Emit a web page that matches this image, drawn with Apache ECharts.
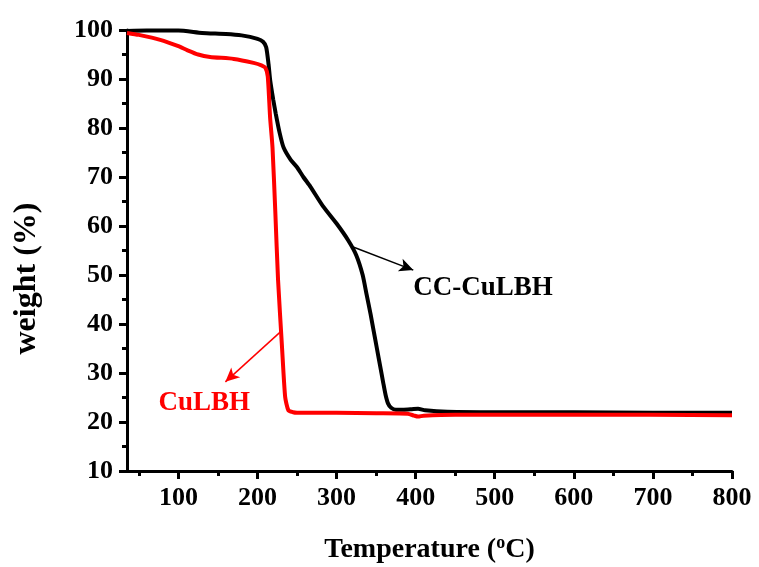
<!DOCTYPE html>
<html lang="en">
<head>
    <meta charset="UTF-8">
    <title>TGA</title>
    <script type="text/javascript" src="https://cdn.jsdelivr.net/npm/echarts@6/dist/echarts.min.js"></script>
    <style>
        html, body { margin: 0; padding: 0; background: #fff; }
        #main { width: 759px; height: 567px; }
    </style>
</head>
<body>
<div id="main"></div>
<script>
    // 数据 (温度, 失重%)
    var ccCuLBH = [
        [35, 99.8], [60, 99.9], [100, 99.9], [130, 99.4], [160, 99.2], [180, 98.9],
        [200, 98.2], [207, 97.6], [211, 96.5], [214, 93], [216, 89.8], [220, 85.7],
        [223, 83], [228, 79], [233, 76], [242, 73.5], [250, 72], [258, 70], [267, 68],
        [283, 64], [300, 60.5], [315, 57], [325, 54], [333, 50], [338, 46], [343, 42],
        [347, 38.5], [351, 35], [355, 31.5], [359, 28], [362, 25.5], [365, 23.8],
        [369, 22.9], [375, 22.5], [385, 22.5], [395, 22.6], [403, 22.7], [412, 22.4],
        [440, 22.1], [500, 22], [600, 22], [700, 21.9], [800, 21.9]
    ];
    var cuLBH = [
        [35, 99.4], [50, 99], [77, 98], [100, 96.7], [111, 95.9], [125, 95], [140, 94.5],
        [170, 94.1], [195, 93.3], [205, 92.8], [210, 92.3], [213, 90.5], [216, 82],
        [219, 76], [222.6, 62.6], [226, 49], [231, 35.3], [235, 25.1], [239, 22.4],
        [245, 22], [250, 21.9], [300, 21.9], [350, 21.8], [390, 21.7], [398, 21.3],
        [403, 21.1], [410, 21.3], [450, 21.5], [600, 21.5], [800, 21.4]
    ];
    var xMajor = [100, 200, 300, 400, 500, 600, 700, 800];
    var xMinor = [50, 150, 250, 350, 450, 550, 650, 750];

    var font = 'Liberation Serif';
    var chart = echarts.init(document.getElementById('main'));
    var option = {
        animation: false,
        grid: { left: 127, right: 27, top: 30, bottom: 96, outerBoundsMode: 'none' },
        xAxis: [{
            type: 'value',
            min: 35,
            max: 800,
            position: 'bottom',
            name: '{a|Temperature (}{s|o}{a|C)}',
            nameLocation: 'middle',
            nameGap: 63,
            nameTextStyle: {
                rich: {
                    a: { fontFamily: font, fontWeight: 'bold', fontSize: 28, color: '#000' },
                    s: { fontFamily: font, fontWeight: 'bold', fontSize: 18, color: '#000', padding: [0, 0, 13, 0] }
                }
            },
            axisLine: { show: true, lineStyle: { color: '#000', width: 3 } },
            axisTick: { show: true, customValues: xMajor, length: 8, lineStyle: { width: 3, color: '#000' } },
            axisLabel: { customValues: xMajor, margin: 14, fontFamily: font, fontWeight: 'bold', fontSize: 26, color: '#000' },
            splitLine: { show: false }
        }, {
            // 次刻度
            type: 'value',
            min: 35,
            max: 800,
            position: 'bottom',
            axisLine: { show: false },
            axisTick: { show: true, customValues: xMinor, length: 5, lineStyle: { width: 3, color: '#000' } },
            axisLabel: { show: false },
            splitLine: { show: false }
        }],
        yAxis: {
            type: 'value',
            min: 10,
            max: 100,
            interval: 10,
            name: 'weight (%)',
            nameLocation: 'middle',
            nameGap: 84,
            nameTextStyle: { fontFamily: font, fontWeight: 'bold', fontSize: 32, color: '#000', padding: [0, 56, 0, 0] },
            axisLine: { show: true, lineStyle: { color: '#000', width: 3 } },
            axisTick: { show: true, length: 8, lineStyle: { width: 3, color: '#000' } },
            minorTick: { show: true, splitNumber: 2, length: 5, lineStyle: { width: 3, color: '#000' } },
            axisLabel: { margin: 14, fontFamily: font, fontWeight: 'bold', fontSize: 26, color: '#000' },
            splitLine: { show: false }
        },
        series: [{
            name: 'CC-CuLBH',
            type: 'line',
            data: ccCuLBH,
            showSymbol: false,
            smooth: 0.2,
            lineStyle: { color: '#000', width: 4 },
            markLine: {
                silent: true,
                symbol: ['none', 'arrow'],
                symbolSize: [10, 14],
                label: { show: false },
                lineStyle: { color: '#000', width: 1.5, type: 'solid' },
                data: [[{ coord: [321, 55.7] }, { coord: [397, 51] }]]
            },
            markPoint: {
                silent: true,
                symbolSize: 0,
                label: { show: true, position: 'right', distance: 0, formatter: 'CC-CuLBH', fontFamily: font, fontWeight: 'bold', fontSize: 27, color: '#000' },
                data: [{ coord: [397, 47.3] }]
            }
        }, {
            name: 'CuLBH',
            type: 'line',
            data: cuLBH,
            showSymbol: false,
            smooth: 0.2,
            lineStyle: { color: '#ff0000', width: 4 },
            markLine: {
                silent: true,
                symbol: ['none', 'arrow'],
                symbolSize: [10, 14],
                label: { show: false },
                lineStyle: { color: '#ff0000', width: 1.5, type: 'solid' },
                data: [[{ coord: [229, 38.4] }, { coord: [159.4, 28.2] }]]
            },
            markPoint: {
                silent: true,
                symbolSize: 0,
                label: { show: true, position: 'right', distance: 0, formatter: 'CuLBH', fontFamily: font, fontWeight: 'bold', fontSize: 27, color: '#ff0000' },
                data: [{ coord: [74.7, 23.9] }]
            }
        }]
    };
    chart.setOption(option);
    window.onresize = function () {
        chart.resize();
    };
</script>
</body>
</html>
